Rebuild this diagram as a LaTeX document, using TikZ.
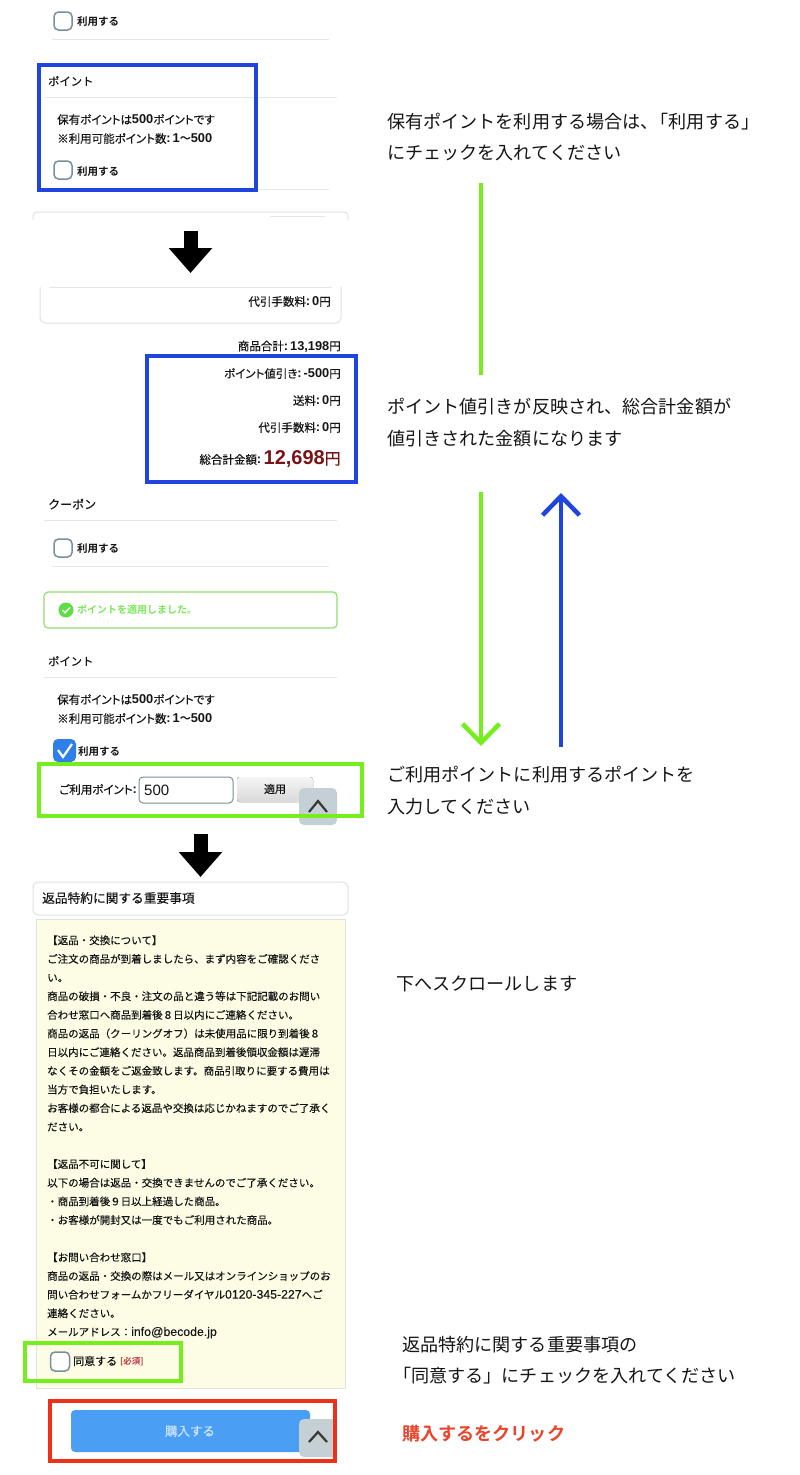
\documentclass[tikz,border=0pt]{standalone}
\usepackage{fontspec}
\usetikzlibrary{arrows.meta}
\setmainfont{Noto Sans CJK JP}
\newfontfamily\jp{Noto Sans CJK JP}
\newfontfamily\jpm[FakeBold=0.25]{Noto Sans CJK JP}
\newfontfamily\jpp[FakeBold=0.25,RawFeature={+palt}]{Noto Sans CJK JP}
\newfontfamily\jpb[BoldFont={* Bold}]{Noto Sans CJK JP}
\newfontfamily\lat{Liberation Sans}
\newfontfamily\latm[FakeBold=0.15]{Liberation Sans}
\newcommand\fsz[1]{\fontsize{#1}{#1}\selectfont}
\newcommand\la[1]{{\lat\bfseries\fsz{12.8}#1}}
\newcommand\lr[1]{{\latm\fsz{12.3}#1}}
\newcommand\wave{{\jpb\bfseries\fsz{11}\char"301C}}
\definecolor{lineg}{HTML}{E3E7E8}
\definecolor{cardg}{HTML}{DDE2E3}
\definecolor{boxg}{HTML}{7A8E9B}
\definecolor{mgreen}{HTML}{74EE1C}
\definecolor{mblue}{HTML}{1F44E0}
\definecolor{mred}{HTML}{EE3018}
\definecolor{txtk}{HTML}{151515}
\definecolor{dred}{HTML}{7A1418}
\definecolor{alertg}{HTML}{8FE06A}
\definecolor{okg}{HTML}{7BE85A}
\definecolor{okc}{HTML}{5FDD45}
\definecolor{upg}{HTML}{C5D0D4}
\definecolor{yell}{HTML}{FDFDE6}
\definecolor{chkblue}{HTML}{2F7FE8}
\definecolor{reqred}{HTML}{C0303A}
\definecolor{buyblue}{HTML}{4A9FF5}
\definecolor{buytxt}{HTML}{CFE5FB}
\definecolor{clickred}{HTML}{E8452C}
\tikzset{
  t/.style={anchor=west,inner sep=0pt,text=txtk},
  tr/.style={anchor=east,inner sep=0pt,text=txtk},
  small/.style={font=\jpp\fsz{11.5},yshift=-.5pt},
  head/.style={font=\jpm\fsz{11.3}},
  use/.style={font=\jpb\bfseries\fsz{10.5},yshift=-1pt},
  note/.style={anchor=west,inner sep=0pt,text=txtk,font=\jp\fsz{18.1},yshift=-1pt},
  rulel/.style={draw=lineg,line width=1pt},
  cbox/.style={draw=boxg,line width=1.5pt,fill=white,rounded corners=4.5pt,minimum size=18pt,inner sep=0pt},
  hilite/.style={line width=4pt,draw=#1},
  flow/.style={line width=4.5pt,draw=#1,-{Straight Barb[length=19pt,width=37pt,line width=4.5pt]}},
  block/.style={line width=14pt,draw=black,-{Triangle[length=25pt,width=42pt]}},
  upbtn/.style={fill=upg,rounded corners=5pt},
  chev/.style={draw=txtk!85,line width=2.2pt},
}
\begin{document}
\begin{tikzpicture}[x=1pt,y=-1pt]
\useasboundingbox (0,0) rectangle (800,1475);
\fill[white] (0,0) rectangle (800,1475);

% --- top fragment
\node[cbox] (cb1) at (63,21) {};
\node[t,use] (u1) at (77,21) {利用する};
\draw[rulel] (52,39) -- (329,39);

% --- point panel 1
\node[t,head] (p1) at (48,81) {ポイント};
\draw[rulel] (44,97) -- (337,97);
\node[t,small] (h1) at (57,119) {保有ポイントは\la{500}ポイントです};
\node[t,small] (h2) at (57,138) {※利用可能ポイント数\la{:\kern2pt 1}\wave\la{500}};
\node[cbox] (cb2) at (63,170) {};
\node[t,use] (u2) at (77,171) {利用する};
\draw[rulel] (52,189) -- (329,189);
\draw[hilite=mblue] (39,65) rectangle (256,190);

% --- card top
\draw[cardg,line width=1pt,rounded corners=4pt] (33,220) -- (33,212) -- (348,212) -- (348,220);
\draw[lineg,line width=.6pt] (270,216) -- (325,216);

\coordinate (b1a) at (190.5,231);
\coordinate (b1b) at (190.5,273);
\draw[block] (b1a) -- (b1b);

% --- card bottom
\draw[cardg,line width=1pt,rounded corners=5pt] (40,287) -- (40,323) -- (341,323) -- (341,287);
\draw[rulel] (49,287) -- (332,287);
\node[tr,small] (d0) at (331,301) {代引手数料\la{:\kern2pt 0}円};

% --- totals
\node[tr,small] (s0) at (341,346) {商品合計\la{:\kern2pt 13,198}円};
\node[tr,small] (s1) at (341,373) {ポイント値引き\la{:\kern2pt -500}円};
\node[tr,small] (s2) at (341,400) {送料\la{:\kern2pt 0}円};
\node[tr,small] (s3) at (341,427) {代引手数料\la{:\kern2pt 0}円};
\node[tr,font=\jpm\fsz{16},text=dred] (s4) at (341,459) {{\lat\bfseries\fsz{20}12,698}円};
\node[tr,small,xshift=-2pt] (s5) at (s4.west) {総合計金額\la{:}};
\draw[hilite=mblue] (147,356) rectangle (356,482);

% --- coupon
\node[t,font=\jpm\fsz{12}] (c0) at (48,504) {クーポン};
\draw[rulel] (44,520) -- (337,520);
\node[cbox] (cb3) at (63,548) {};
\node[t,use] (u3) at (77,548) {利用する};
\draw[rulel] (52,566.5) -- (329,566.5);

% --- alert
\draw[alertg,line width=1.2pt,rounded corners=4pt] (44,592) rectangle (337,628);
\fill[okc] (66,610) circle (7.5);
\draw[white,line width=1.4pt] (62.5,610) -- (65,612.8) -- (70,607.5);
\node[t,font=\jpb\bfseries\fsz{10},text=okg] (a0) at (77,609.5) {ポイントを適用しました。};

% --- point panel 2
\node[t,head] (p2) at (48,661) {ポイント};
\draw[rulel] (44,677) -- (337,677);
\node[t,small] (h3) at (57,699) {保有ポイントは\la{500}ポイントです};
\node[t,small] (h4) at (57,718) {※利用可能ポイント数\la{:\kern2pt 1}\wave\la{500}};
\fill[chkblue,rounded corners=5pt] (53,739) rectangle (76,762);
\draw[white,line width=2.2pt] (58,750) -- (63,757) -- (72,744);
\node[t,use] (u4) at (78,751) {利用する};

\node[t,small] (lbl) at (59,789) {ご利用ポイント\la{:}};
\draw[boxg,line width=1pt,fill=white,rounded corners=4pt] (139,777) rectangle (233,803);
\node[t,font=\lat\fsz{15}] (val) at (144,790.5) {500};
\fill[top color=white!92!gray,bottom color=black!15,rounded corners=3pt] (237,777) rectangle (313,802);
\node[anchor=center,inner sep=0pt,text=txtk,font=\jpm\fsz{11}] (ap) at (275,789) {適用};
\fill[upbtn] (299,788) rectangle (337,825);
\coordinate (ch1a) at (309,812); \coordinate (ch1b) at (318,801); \coordinate (ch1c) at (327,812);
\draw[chev] (ch1a) -- (ch1b) -- (ch1c);
\draw[hilite=mgreen] (39,764) rectangle (362,816);

\coordinate (b2a) at (200.5,834);
\coordinate (b2b) at (200.5,877);
\draw[block] (b2a) -- (b2b);

% --- notice card
\draw[cardg,line width=1pt,fill=white,rounded corners=5pt] (33,882) rectangle (348,915);
\node[t,font=\jpm\fsz{12.7}] (n0) at (42,898) {返品特約に関する重要事項};
\draw[cardg,line width=1pt,fill=yell] (36,919) rectangle (345,1388);
\node[anchor=north west,inner sep=0pt,text=txtk,align=left,font=\jpm\fontsize{10.5}{18.65}\selectfont] (body) at (47,931) {%
\strut【返品・交換について】\\
\strut ご注文の商品が到着しましたら、まず内容をご確認くださ\\
\strut い。\\
\strut 商品の破損・不良・注文の品と違う等は下記記載のお問い\\
\strut 合わせ窓口へ商品到着後８日以内にご連絡ください。\\
\strut 商品の返品（クーリングオフ）は未使用品に限り到着後８\\
\strut 日以内にご連絡ください。返品商品到着後領収金額は遅滞\\
\strut なくその金額をご返金致します。商品引取りに要する費用は\\
\strut 当方で負担いたします。\\
\strut お客様の都合による返品や交換は応じかねますのでご了承く\\
\strut ださい。\\
\strut \mbox{}\\
\strut 【返品不可に関して】\\
\strut 以下の場合は返品・交換できませんのでご了承ください。\\
\strut ・商品到着後９日以上経過した商品。\\
\strut ・お客様が開封又は一度でもご利用された商品。\\
\strut \mbox{}\\
\strut 【お問い合わせ窓口】\\
\strut 商品の返品・交換の際はメール又はオンラインショップのお\\
\strut 問い合わせフォームかフリーダイヤル\lr{0120-345-227}へご\\
\strut 連絡ください。\\
\strut メールアドレス：\lr{info@becode.jp}};

\node[cbox,minimum size=19pt] (cb5) at (60,1361.5) {};
\node[t,font=\jpm\fsz{11}] (ag) at (73,1361) {同意する};
\node[t,font=\jpb\bfseries\fsz{8.5},text=reqred] (req) at (120,1362) {[必須]};
\draw[hilite=mgreen] (25,1343) rectangle (181,1381);

% --- buy button
\fill[buyblue,rounded corners=4pt] (71,1410) rectangle (310,1452);
\node[anchor=center,inner sep=0pt,font=\jpm\fsz{12.5},text=buytxt] (buy) at (190,1431) {購入する};
\fill[upbtn] (299,1419) rectangle (345,1457);
\fill[white] (335,1415) rectangle (350,1460);
\coordinate (ch2a) at (309,1442); \coordinate (ch2b) at (318,1432); \coordinate (ch2c) at (327,1442);
\draw[chev] (ch2a) -- (ch2b) -- (ch2c);
\draw[mred,line width=3.5pt] (50,1401) rectangle (335,1461);

% --- notes
\node[note] (m1) at (387,121) {保有ポイントを利用する場合は、\kern-8pt「利用する」};
\node[note] (m2) at (387,152) {にチェックを入れてください};
\node[note] (m3) at (387,406) {ポイント値引きが反映され、総合計金額が};
\node[note] (m4) at (387,438) {値引きされた金額になります};
\node[note] (m5) at (387,774) {ご利用ポイントに利用するポイントを};
\node[note] (m6) at (387,806) {入力してください};
\node[note] (m7) at (396,983) {下へスクロールします};
\node[note] (m8) at (402,1344) {返品特約に関する重要事項の};
\node[note] (m9) at (402,1375) {\kern-9pt「同意する」にチェックを入れてください};
\node[note,font=\jpb\bfseries\fsz{18.1},text=clickred] (m10) at (402,1433) {購入するをクリック};

% --- flow lines
\coordinate (g1a) at (481,183);
\coordinate (g1b) at (481,375);
\draw[line width=4.5pt,draw=mgreen] (g1a) -- (g1b);
\coordinate (g2a) at (481,492);
\coordinate (g2b) at (481,746);
\draw[flow=mgreen] (g2a) -- (g2b);
\coordinate (b3a) at (561,747);
\coordinate (b3b) at (561,493);
\draw[flow=mblue] (b3a) -- (b3b);
\end{tikzpicture}
\end{document}
